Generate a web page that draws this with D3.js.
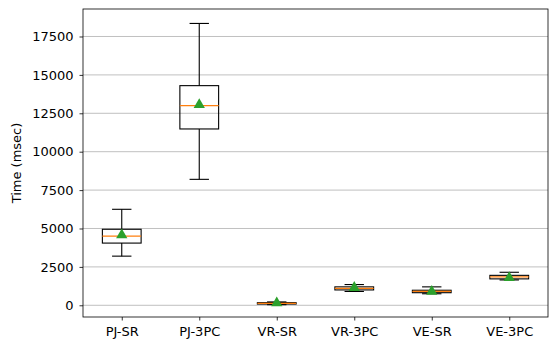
<!DOCTYPE html>
<html>
<head>
<meta charset="utf-8">
<script src="https://cdn.jsdelivr.net/npm/d3@7"></script>
<style>
  body { margin: 0; background: #fff; }
  text { font-family: "DejaVu Sans", sans-serif; }
</style>
</head>
<body>
<div id="chart"></div>
<script>
// ---- data ----
const categories = ["PJ-SR", "PJ-3PC", "VR-SR", "VR-3PC", "VE-SR", "VE-3PC"];
const whiskerLow  = [3200, 8200,  40,  900,  750, 1650];
const q1          = [4050, 11480, 80, 1000,  820, 1720];
const medians     = [4500, 13000, 120, 1100,  900, 1850];
const q3          = [4950, 14300, 170, 1200,  980, 1950];
const whiskerHigh = [6250, 18350, 220, 1350, 1200, 2150];
const means       = [4580, 13050, 150, 1150,  900, 1800];
const yTicks      = [0, 2500, 5000, 7500, 10000, 12500, 15000, 17500];

const width = 558, height = 351;
const margin = { left: 83, right: 10, top: 9, bottom: 34 };

const svg = d3.select("#chart").append("svg")
  .attr("width", width)
  .attr("height", height);

const x = d3.scalePoint()
  .domain(categories)
  .range([margin.left, width - margin.right])
  .padding(0.5);

const y = d3.scaleLinear()
  .domain([-762, 19290])
  .range([height - margin.bottom, margin.top]);

const step = x.step();
const boxW = step * 0.5;
const capW = boxW * 0.5;

// grid
svg.append("g")
  .selectAll("line")
  .data(yTicks)
  .join("line")
  .attr("x1", margin.left)
  .attr("x2", width - margin.right)
  .attr("y1", d => y(d))
  .attr("y2", d => y(d))
  .attr("stroke", "#b0b0b0")
  .attr("stroke-width", 0.8);

// axes
const fontSize = "13px";
const yAxis = svg.append("g")
  .attr("transform", `translate(${margin.left},0)`)
  .call(d3.axisLeft(y).tickValues(yTicks).tickFormat(d3.format("d")).tickSize(3.5).tickPadding(6));
const xAxis = svg.append("g")
  .attr("transform", `translate(0,${height - margin.bottom})`)
  .call(d3.axisBottom(x).tickSize(3.5).tickPadding(6));

[yAxis, xAxis].forEach(a => {
  a.select(".domain").remove();
  a.selectAll("line").attr("stroke", "#000").attr("stroke-width", 0.8);
  a.selectAll("text").attr("fill", "#000").style("font-size", fontSize)
    .style("font-family", "DejaVu Sans");
});

// frame
svg.append("rect")
  .attr("x", margin.left)
  .attr("y", margin.top)
  .attr("width", width - margin.left - margin.right)
  .attr("height", height - margin.top - margin.bottom)
  .attr("fill", "none")
  .attr("stroke", "#000")
  .attr("stroke-width", 0.8);

// y label
svg.append("text")
  .attr("transform", `translate(21,${(margin.top + height - margin.bottom) / 2}) rotate(-90)`)
  .attr("text-anchor", "middle")
  .style("font-size", fontSize)
  .text("Time (msec)");

// boxes
const boxes = categories.map((c, i) => ({
  cat: c, lo: whiskerLow[i], q1: q1[i], med: medians[i], q3: q3[i], hi: whiskerHigh[i], mean: means[i]
}));

const g = svg.append("g").selectAll("g").data(boxes).join("g")
  .attr("transform", d => `translate(${x(d.cat)},0)`);

g.append("line").attr("y1", d => y(d.lo)).attr("y2", d => y(d.q1))
  .attr("stroke", "#000").attr("stroke-width", 1.1);
g.append("line").attr("y1", d => y(d.q3)).attr("y2", d => y(d.hi))
  .attr("stroke", "#000").attr("stroke-width", 1.1);
g.append("line").attr("x1", -capW / 2).attr("x2", capW / 2)
  .attr("y1", d => y(d.lo)).attr("y2", d => y(d.lo))
  .attr("stroke", "#000").attr("stroke-width", 1.1);
g.append("line").attr("x1", -capW / 2).attr("x2", capW / 2)
  .attr("y1", d => y(d.hi)).attr("y2", d => y(d.hi))
  .attr("stroke", "#000").attr("stroke-width", 1.1);
g.append("rect")
  .attr("x", -boxW / 2).attr("width", boxW)
  .attr("y", d => y(d.q3)).attr("height", d => y(d.q1) - y(d.q3))
  .attr("fill", "none").attr("stroke", "#000").attr("stroke-width", 1.1);
g.append("line").attr("x1", -boxW / 2).attr("x2", boxW / 2)
  .attr("y1", d => y(d.med)).attr("y2", d => y(d.med))
  .attr("stroke", "#ff7f0e").attr("stroke-width", 1.3);

// mean markers
const tri = d3.symbol().type(d3.symbolTriangle).size(55);
g.append("path")
  .attr("d", tri)
  .attr("transform", d => `translate(0,${y(d.mean)})`)
  .attr("fill", "#2ca02c");
</script>
</body>
</html>
